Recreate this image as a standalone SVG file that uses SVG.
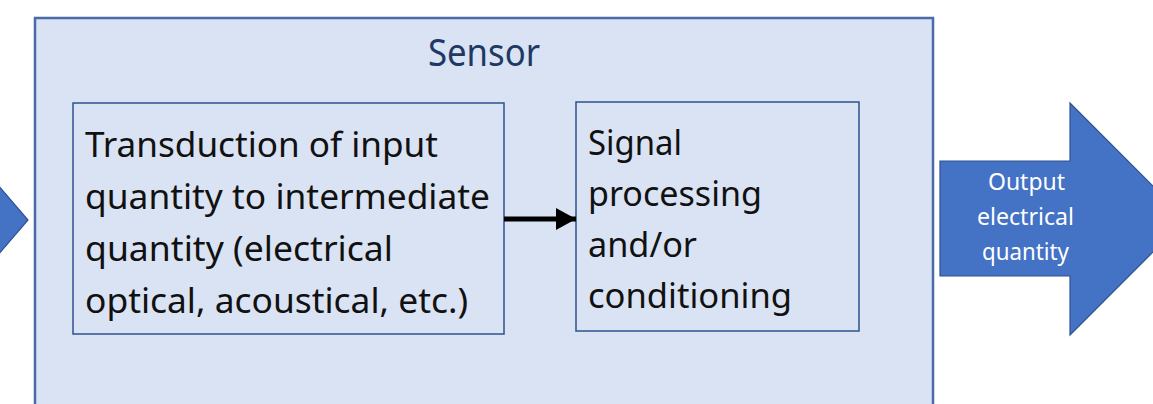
<svg xmlns="http://www.w3.org/2000/svg" width="1153" height="404" viewBox="0 0 1153 404">
<defs>
<style>
.box{fill:#DAE3F3;stroke:#2F528F;stroke-width:1.5}
.outer{fill:#DAE3F3;stroke:#4A6AA8;stroke-width:2.5}
.big{fill:#4472C4;stroke:#2F528F;stroke-width:1.2}
.t{font-family:"Noto Sans","Open Sans","Liberation Sans",sans-serif;font-size:34px;fill:#111}
.w{font-family:"Noto Sans","Open Sans","Liberation Sans",sans-serif;font-size:24px;fill:#fff}
.title{font-family:"Noto Sans","Open Sans","Liberation Sans",sans-serif;font-size:38px;fill:#203864}
</style>
<marker id="ah" markerWidth="20" markerHeight="22" refX="20" refY="11" orient="auto" markerUnits="userSpaceOnUse">
<path d="M0,0 L20,11 L0,22 Z" fill="#000"/>
</marker>
</defs>
<g id="input-arrow">
<polygon class="big" points="-30,185 -2,185 28,220 -2,255 -30,255"/>
</g>
<g id="sensor">
<rect class="outer" x="35" y="18" width="898" height="400"/>
<text class="title" x="428" y="66" textLength="112" lengthAdjust="spacingAndGlyphs">Sensor</text>
</g>
<g id="transduction">
<rect class="box" x="73" y="103" width="431" height="231"/>
<text class="t" x="85" y="157" textLength="353" lengthAdjust="spacingAndGlyphs">Transduction of input</text>
<text class="t" x="85" y="209" textLength="405" lengthAdjust="spacingAndGlyphs">quantity to intermediate</text>
<text class="t" x="85" y="261" textLength="308" lengthAdjust="spacingAndGlyphs">quantity (electrical</text>
<text class="t" x="85" y="313" textLength="383" lengthAdjust="spacingAndGlyphs">optical, acoustical, etc.)</text>
</g>
<g id="signal-processing">
<rect class="box" x="576" y="102" width="283" height="229"/>
<text class="t" x="588" y="155" textLength="94" lengthAdjust="spacingAndGlyphs">Signal</text>
<text class="t" x="588" y="206" textLength="174" lengthAdjust="spacingAndGlyphs">processing</text>
<text class="t" x="588" y="257" textLength="109" lengthAdjust="spacingAndGlyphs">and/or</text>
<text class="t" x="588" y="308" textLength="204" lengthAdjust="spacingAndGlyphs">conditioning</text>
</g>
<g id="connectors">
<line x1="504" y1="219" x2="576" y2="219" stroke="#000" stroke-width="5" marker-end="url(#ah)"/>
</g>
<g id="output-arrow">
<polygon class="big" points="940,161 1070,161 1070,103 1186,219 1070,335 1070,276 940,276"/>
<text class="w" x="988" y="190" textLength="77" lengthAdjust="spacingAndGlyphs">Output</text>
<text class="w" x="977" y="225" textLength="97" lengthAdjust="spacingAndGlyphs">electrical</text>
<text class="w" x="982" y="260" textLength="87" lengthAdjust="spacingAndGlyphs">quantity</text>
</g>
</svg>
